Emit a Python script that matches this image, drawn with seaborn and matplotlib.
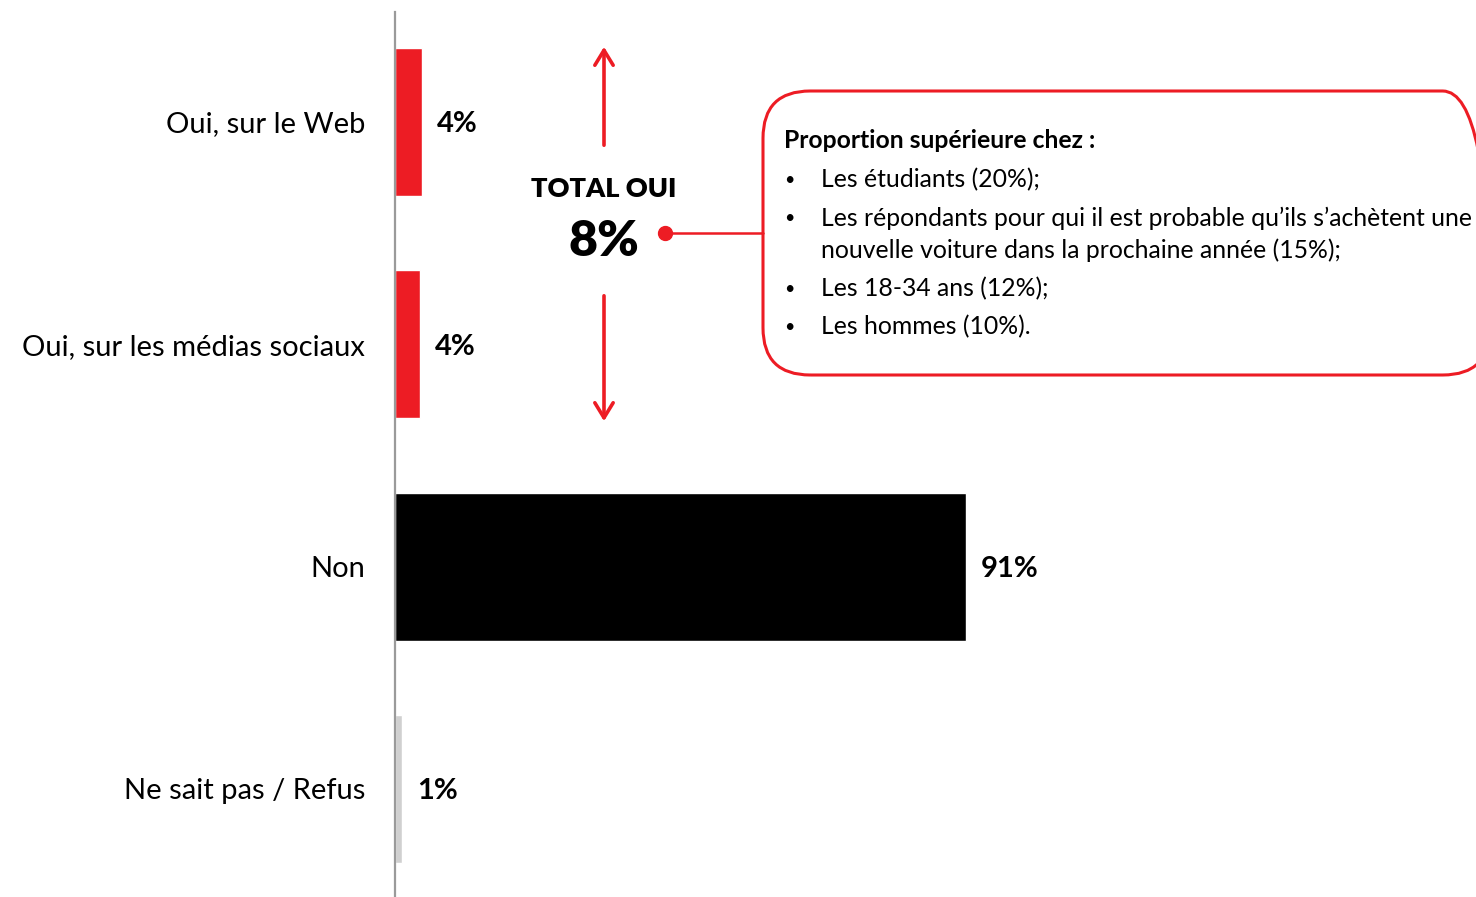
import matplotlib
matplotlib.use("Agg")
import matplotlib.pyplot as plt
import seaborn as sns
import pandas as pd
from matplotlib.patches import FancyBboxPatch, FancyArrowPatch

categories = ["Oui, sur le Web", "Oui, sur les médias sociaux", "Non", "Ne sait pas / Refus"]
values = [4.3, 4.0, 91.0, 1.1]
value_labels = ["4%", "4%", "91%", "1%"]
bar_colors = ["#ED1C24", "#ED1C24", "#000000", "#D0D0D0"]
total_label = "TOTAL OUI"
total_value = "8%"
box_title = "Proportion supérieure chez :"
box_items = [
    ["Les étudiants (20%);"],
    ["Les répondants pour qui il est probable qu\u2019ils s\u2019achètent une",
     "nouvelle voiture dans la prochaine année (15%);"],
    ["Les 18-34 ans (12%);"],
    ["Les hommes (10%)."],
]

sns.set_style("white")
plt.rcParams["font.family"] = ["Lato", "DejaVu Sans"]
plt.rcParams["text.color"] = "black"
plt.rcParams["ytick.color"] = "black"
plt.rcParams["ytick.labelcolor"] = "black"

W, H = 1476, 897
fig = plt.figure(figsize=(W / 100, H / 100), dpi=100)
ax = fig.add_axes([395 / W, 0, 1 - 395 / W, 1 - 12 / H])

df = pd.DataFrame({"cat": categories, "val": values})
sns.barplot(data=df, y="cat", x="val", hue="cat", palette=bar_colors,
            orient="h", width=0.665, legend=False, ax=ax, saturation=1)

ax.set_xlim(0, (W - 395) / 6.27)
ax.set_ylim(3.486, -0.495)
ax.set_xlabel("")
ax.set_ylabel("")
ax.set_xticks([])
ax.tick_params(axis="y", length=0, pad=21.5, labelsize=21, labelcolor="black")
for s in ["top", "right", "bottom"]:
    ax.spines[s].set_visible(False)
ax.spines["left"].set_color("#9A9A9A")
ax.spines["left"].set_linewidth(1.6)

for i, (v, lab) in enumerate(zip(values, value_labels)):
    ax.text(v + 15 / 6.27, i + 0.01, lab, va="center", ha="left",
            fontsize=21, fontweight="bold", color="black")

red = "#ED1C24"

def fx(px):
    return px / W

def fy(py):
    return 1 - py / H

fig.text(fx(604), fy(189), total_label, ha="center", va="center",
         fontsize=19.5, fontweight="heavy", color="black")
fig.text(fx(604), fy(241), total_value, ha="center", va="center",
         fontsize=36, fontweight="heavy", color="black")

for y0, y1 in [(148, 44), (293, 424)]:
    arr = FancyArrowPatch((fx(604), fy(y0)), (fx(604), fy(y1)),
                          transform=fig.transFigure, arrowstyle="->,head_length=0.9,head_width=0.55",
                          color=red, lw=2.6, mutation_scale=12)
    fig.add_artist(arr)

# connector dot and line
fig.add_artist(plt.Line2D([fx(665), fx(763)], [fy(233), fy(233)],
                          transform=fig.transFigure, color=red, lw=1.8))
fig.add_artist(plt.Line2D([fx(665)], [fy(233)], transform=fig.transFigure,
                          marker="o", markersize=10, color=red))

# rounded box
box = FancyBboxPatch((fx(763), fy(375)), fx(1490) - fx(763), fy(91) - fy(375),
                     boxstyle="round,pad=0,rounding_size=0.032",
                     transform=fig.transFigure, fill=False, edgecolor=red, lw=2.2,
                     mutation_aspect=W / H)
fig.add_artist(box)

fs = 17.8
fig.text(fx(784), fy(141), box_title, ha="left", va="center",
         fontsize=fs, fontweight="bold", color="black")
line_ys = [[180], [218, 250], [289], [327]]
for item, ys in zip(box_items, line_ys):
    fig.text(fx(789), fy(ys[0]), "\u2022", ha="center", va="center", fontsize=13, color="black")
    for line, y in zip(item, ys):
        fig.text(fx(821), fy(y), line, ha="left", va="center", fontsize=fs, color="black")

fig.savefig("out.png", dpi=100)
